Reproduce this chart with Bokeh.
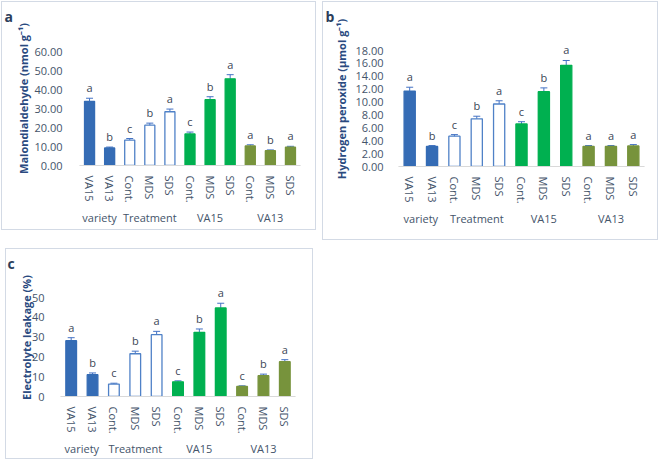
from bokeh.plotting import figure
from bokeh.models import (FactorRange, ColumnDataSource, Whisker, TeeHead,
                          FixedTicker, NumeralTickFormatter)
from bokeh.layouts import column, row
from bokeh.embed import file_html
from bokeh.resources import INLINE
from bokeh.core.properties import value

# ---------------- data ----------------
groups = ["variety", "variety", "Treatment", "Treatment", "Treatment",
          "VA15", "VA15", "VA15", "VA13", "VA13", "VA13"]
subs = ["VA15", "VA13", "Cont.", "MDS", "SDS",
        "Cont.", "MDS", "SDS", "Cont.", "MDS", "SDS"]

mda = [33.8, 9.2, 13.4, 21.2, 28.3, 16.6, 34.6, 45.6, 10.3, 7.8, 9.6]
mda_err = [1.6, 0.5, 0.8, 1.1, 1.4, 1.0, 1.6, 2.2, 0.6, 0.4, 0.5]
mda_letters = ["a", "b", "c", "b", "a", "c", "b", "a", "a", "b", "a"]

h2o2 = [11.7, 3.1, 4.7, 7.4, 9.7, 6.6, 11.6, 15.7, 3.1, 3.1, 3.2]
h2o2_err = [0.6, 0.15, 0.25, 0.4, 0.5, 0.35, 0.6, 0.75, 0.15, 0.15, 0.2]
h2o2_letters = ["a", "b", "c", "b", "a", "c", "b", "a", "a", "a", "a"]

el = [28.2, 11.0, 6.3, 21.6, 31.2, 7.4, 32.4, 44.7, 5.1, 10.5, 17.6]
el_err = [1.5, 0.9, 0.4, 1.3, 1.7, 0.5, 1.7, 2.4, 0.3, 0.8, 1.0]
el_letters = ["a", "b", "c", "b", "a", "c", "b", "a", "c", "b", "a"]

group_fill = {"variety": "#356CB5", "Treatment": "#FFFFFF", "VA15": "#00B050", "VA13": "#77933C"}
group_line = {"variety": None, "Treatment": "#4F81C7", "VA15": None, "VA13": None}

FONT = "Open Sans"
TICK_COLOR = "#44546A"
TITLE_COLOR = "#2A4A7F"
ERR_COLOR = "#4472C4"
GRID_GREY = "#D9D9D9"
BOX_COLOR = "#D3DAE5"


def make_panel(vals, errs, letters, ymax, ystep, fmt, ytitle, tag,
               fw, fh, ext, bl, br, bt, bb, lab_standoff, title_standoff,
               tag_offset, sep_len):
    # fh: pixel height of the 0..ymax span; ext: extra pixels of empty frame above it
    factors = list(zip(groups, subs))
    src = ColumnDataSource(dict(
        x=factors, top=vals,
        upper=[v + e for v, e in zip(vals, errs)],
        lower=[v - e for v, e in zip(vals, errs)],
        letter=letters,
        fill=[group_fill[g] for g in groups],
        line=[group_line[g] if group_line[g] else group_fill[g] for g in groups],
    ))
    xr = FactorRange(*factors, factor_padding=0, group_padding=0, range_padding=0)
    y_end = ymax * (fh + ext) / fh
    p = figure(x_range=xr, y_range=(0, y_end), frame_width=fw, frame_height=fh + ext,
               output_backend="svg", toolbar_location=None,
               min_border_left=bl, min_border_right=br,
               min_border_top=bt, min_border_bottom=bb,
               outline_line_color=None, background_fill_color="white",
               border_fill_color="white")
    p.vbar(x="x", top="top", width=0.5, source=src, fill_color="fill",
           line_color="line", line_width=1.3)
    w = Whisker(source=src, base="x", upper="upper", lower="lower",
                line_color=ERR_COLOR, line_width=1,
                upper_head=TeeHead(size=7, line_color=ERR_COLOR, line_width=1),
                lower_head=TeeHead(size=7, line_color=ERR_COLOR, line_width=1))
    p.add_layout(w)
    p.text(x="x", y="upper", text="letter", source=src, y_offset=-3,
           text_align="center", text_baseline="bottom",
           text_font=value(FONT), text_font_size="11px", text_color="#3B4656")

    # group separator lines of the category axis (boundaries between groups)
    bounds = [0] + [i for i in range(1, len(groups)) if groups[i] != groups[i - 1]] + [len(groups)]
    sep_src = ColumnDataSource(dict(b=bounds, u=[0] * len(bounds), l=[-sep_len] * len(bounds)))
    seps = Whisker(source=sep_src, base="b", upper="u", lower="l",
                   upper_units="screen", lower_units="screen",
                   line_color=GRID_GREY, line_width=1,
                   upper_head=None, lower_head=None)
    p.add_layout(seps)

    p.xgrid.visible = False
    p.ygrid.visible = False

    ya = p.yaxis[0]
    ya.ticker = FixedTicker(ticks=list(range(0, ymax + 1, ystep)))
    ya.formatter = NumeralTickFormatter(format=fmt)
    ya.axis_line_color = None
    ya.major_tick_line_color = None
    ya.minor_tick_line_color = None
    ya.major_label_standoff = lab_standoff
    ya.major_label_text_font = FONT
    ya.major_label_text_font_size = "11px"
    ya.major_label_text_color = TICK_COLOR
    ya.axis_label = ytitle
    ya.axis_label_standoff = title_standoff
    ya.axis_label_text_font = FONT
    ya.axis_label_text_font_size = "11px"
    ya.axis_label_text_font_style = "bold"
    ya.axis_label_text_color = TITLE_COLOR

    xa = p.xaxis[0]
    xa.axis_line_color = GRID_GREY
    xa.major_tick_line_color = None
    xa.minor_tick_line_color = None
    xa.major_label_orientation = "vertical"
    xa.major_label_standoff = 4
    xa.major_label_text_font = FONT
    xa.major_label_text_font_size = "11px"
    xa.major_label_text_color = TICK_COLOR
    xa.group_label_orientation = "horizontal"
    xa.group_text_font = FONT
    xa.group_text_font_size = "11px"
    xa.group_text_font_style = "normal"
    xa.group_text_color = TICK_COLOR
    xa.separator_line_color = None

    # panel tag ("a", "b", "c") as the figure title, top-left corner
    p.title.text = tag
    p.title.align = "left"
    p.title.vertical_align = "top"
    p.title.offset = tag_offset
    p.title.standoff = 8
    p.title.text_font = FONT
    p.title.text_font_size = "14px"
    p.title.text_font_style = "bold"
    p.title.text_color = "#2B3D5B"
    return p


pa = make_panel(mda, mda_err, mda_letters, 60, 10, "0.00",
                "Malondialdehyde (nmol g\u207b\u00b9)", "a",
                221, 114, 20, 77, 15, 29, 64, 11, 0, -75, 64)
pb = make_panel(h2o2, h2o2_err, h2o2_letters, 18, 2, "0.00",
                "Hydrogen peroxide (\u00b5mol g\u207b\u00b9)", "b",
                246, 116, 19, 75, 13, 28, 73, 9, 3, -73, 64)
pc = make_panel(el, el_err, el_letters, 50, 10, "0",
                "Electrolyte leakage (%)", "c",
                235, 99, 19, 54, 17, 29, 62, 10, -5, -53, 56)

box = {"border": "1px solid " + BOX_COLOR}
wa = column(pa, styles=box, margin=(0, 0, 0, -1))
wb = column(pb, styles=box, margin=(0, 0, 0, 6))
wc = column(pc, styles=box, margin=(8, 0, 0, 3))
lay = column(row(wa, wb), wc, margin=(1, 0, -6, 2))

open("out.html", "w").write(file_html(lay, INLINE))
